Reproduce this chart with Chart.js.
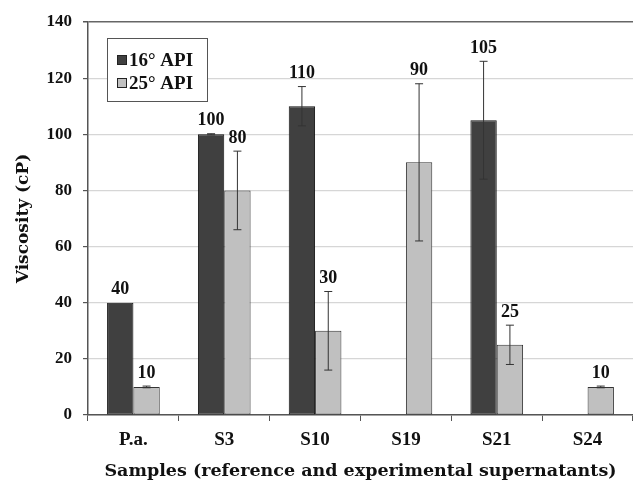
<!DOCTYPE html>
<html>
<head>
<meta charset="utf-8">
<script src="https://cdn.jsdelivr.net/npm/chart.js@4.4.1/dist/chart.umd.min.js"></script>
<style>
  html, body { margin: 0; padding: 0; background: #fff; }
  #wrap { width: 633px; height: 482px; }
</style>
</head>
<body>
<div id="wrap"><canvas id="chart"></canvas></div>
<script>
const categories = ["P.a.", "S3", "S10", "S19", "S21", "S24"];
const api16 = [40, 100, 110, null, 105, null];
const api25 = [10, 80, 30, 90, 25, 10];
const err16 = [0, 0.2, 7, null, 21, null];
const err25 = [0.3, 14, 14, 28, 7, 0.3];
const yTicks = [0, 20, 40, 60, 80, 100, 120, 140];

const SERIF = '"Liberation Serif", "Times New Roman", serif';
const WIDE = '"DejaVu Serif", serif';
const errors = [err16, err25];

// error bars + value labels on top
const barExtras = {
  id: "barExtras",
  afterDatasetsDraw(chart) {
    const ctx = chart.ctx;
    const y = chart.scales.y;
    ctx.save();
    chart.data.datasets.forEach((ds, i) => {
      const meta = chart.getDatasetMeta(i);
      meta.data.forEach((bar, j) => {
        const v = ds.data[j];
        if (v == null) return;
        const e = errors[i][j] || 0;
        let top = y.getPixelForValue(v);
        if (e > 0) {
          const hi = y.getPixelForValue(v + e);
          const lo = y.getPixelForValue(v - e);
          ctx.strokeStyle = "#333";
          ctx.lineWidth = 1;
          ctx.beginPath();
          ctx.moveTo(bar.x, hi); ctx.lineTo(bar.x, lo);
          ctx.moveTo(bar.x - 4, hi); ctx.lineTo(bar.x + 4, hi);
          ctx.moveTo(bar.x - 4, lo); ctx.lineTo(bar.x + 4, lo);
          ctx.stroke();
          top = hi;
        }
        ctx.fillStyle = "#111";
        ctx.font = "bold 18px " + SERIF;
        ctx.textAlign = "center";
        ctx.textBaseline = "bottom";
        ctx.fillText(String(v), bar.x, top - 4);
      });
    });
    ctx.restore();
  }
};

// boxed legend in the upper left of the plot
const boxLegend = {
  id: "boxLegend",
  afterDraw(chart) {
    const ctx = chart.ctx;
    const x0 = 107, y0 = 38, w = 100, h = 63;
    ctx.save();
    ctx.fillStyle = "#fff";
    ctx.fillRect(x0, y0, w, h);
    ctx.strokeStyle = "#555";
    ctx.lineWidth = 1;
    ctx.strokeRect(x0 + 0.5, y0 + 0.5, w, h);
    ctx.font = "bold 19px " + SERIF;
    ctx.textBaseline = "middle";
    ctx.textAlign = "left";
    chart.data.datasets.forEach((ds, i) => {
      const cy = y0 + 22 + i * 23;
      ctx.fillStyle = ds.backgroundColor;
      ctx.fillRect(x0 + 10, cy - 5, 10, 10);
      ctx.strokeStyle = "#222";
      ctx.strokeRect(x0 + 10.5, cy - 4.5, 9, 9);
      ctx.fillStyle = "#111";
      ctx.fillText(ds.label, x0 + 22, cy + 1);
    });
    ctx.restore();
  }
};

new Chart(document.getElementById("chart"), {
  type: "bar",
  data: {
    labels: categories,
    datasets: [
      {
        label: "16° API",
        data: api16,
        backgroundColor: "#404040",
        borderColor: "#111",
        borderWidth: 1,
        borderSkipped: false,
      },
      {
        label: "25° API",
        data: api25,
        backgroundColor: "#c0c0c0",
        borderColor: "#333",
        borderWidth: 1,
        borderSkipped: false,
      },
    ],
  },
  options: {
    responsive: true,
    maintainAspectRatio: false,
    animation: false,
    layout: { padding: { top: 22, left: 0, right: 0, bottom: 0 } },
    categoryPercentage: 0.58,
    barPercentage: 1.0,
    plugins: {
      legend: { display: false },
      tooltip: { enabled: false },
    },
    scales: {
      x: {
        afterFit: (s) => { s.height = 67; },
        grid: {
          drawOnChartArea: false,
          drawTicks: true,
          tickLength: 6,
          offset: true,
          color: "#555",
          tickColor: "#555",
        },
        border: { color: "#555", width: 1.5 },
        ticks: {
          color: "#111",
          padding: 8,
          font: { family: SERIF, size: 19, weight: "bold" },
        },
        title: {
          display: true,
          text: "Samples (reference and experimental supernatants)",
          color: "#111",
          padding: { top: 0, bottom: 0 },
          font: { family: WIDE, size: 17.5, weight: "bold" },
        },
      },
      y: {
        min: 0,
        max: 140,
        afterFit: (s) => { s.width = 88; },
        afterBuildTicks: (s) => { s.ticks = yTicks.map((v) => ({ value: v })); },
        grid: {
          color: (c) => (c.tick && c.tick.value === 140 ? "#666" : "#d6d6d6"),
          lineWidth: (c) => (c.tick && c.tick.value === 140 ? 1.5 : 1.2),
          tickLength: 5,
          tickColor: "#555",
        },
        border: { color: "#555", width: 1.5 },
        ticks: {
          color: "#111",
          padding: 11,
          font: { family: SERIF, size: 17, weight: "bold" },
        },
        title: {
          display: true,
          text: "Viscosity (cP)",
          color: "#111",
          padding: { top: 13, bottom: 0 },
          font: { family: WIDE, size: 17, weight: "bold" },
        },
      },
    },
  },
  plugins: [barExtras, boxLegend],
});
</script>
</body>
</html>
